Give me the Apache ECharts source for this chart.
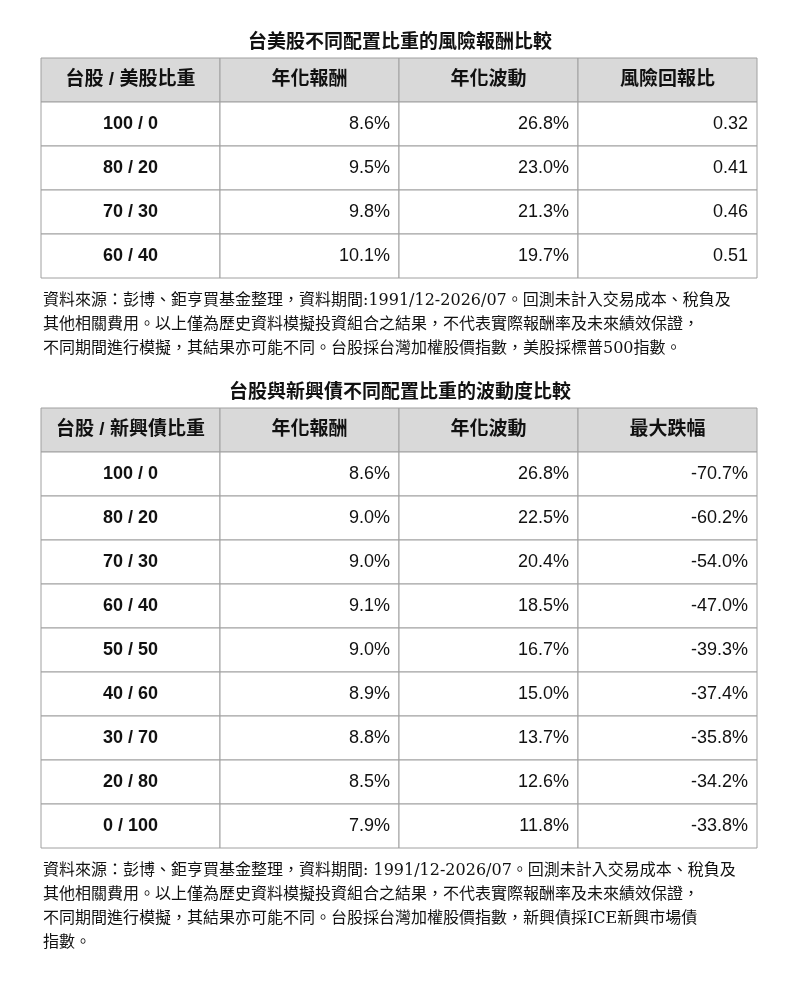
<!DOCTYPE html>
<html><head><meta charset="utf-8">
<script src="https://cdn.jsdelivr.net/npm/echarts@6/dist/echarts.min.js"></script>
<style>html,body{margin:0;padding:0;background:#fff}#c{width:800px;height:999px}</style>
</head><body><div id="c"></div>
<script>
const title1 = '台美股不同配置比重的風險報酬比較';
const header1 = ['台股 / 美股比重', '年化報酬', '年化波動', '風險回報比'];
const alloc1 = ['100 / 0', '80 / 20', '70 / 30', '60 / 40'];
const ret1 = ['8.6%', '9.5%', '9.8%', '10.1%'];
const vol1 = ['26.8%', '23.0%', '21.3%', '19.7%'];
const ratio1 = ['0.32', '0.41', '0.46', '0.51'];
const note1 = '資料來源：彭博、鉅亨買基金整理，資料期間:1991/12-2026/07。回測未計入交易成本、稅負及\n其他相關費用。以上僅為歷史資料模擬投資組合之結果，不代表實際報酬率及未來績效保證，\n不同期間進行模擬，其結果亦可能不同。台股採台灣加權股價指數，美股採標普500指數。';

const title2 = '台股與新興債不同配置比重的波動度比較';
const header2 = ['台股 / 新興債比重', '年化報酬', '年化波動', '最大跌幅'];
const alloc2 = ['100 / 0', '80 / 20', '70 / 30', '60 / 40', '50 / 50', '40 / 60', '30 / 70', '20 / 80', '0 / 100'];
const ret2 = ['8.6%', '9.0%', '9.0%', '9.1%', '9.0%', '8.9%', '8.8%', '8.5%', '7.9%'];
const vol2 = ['26.8%', '22.5%', '20.4%', '18.5%', '16.7%', '15.0%', '13.7%', '12.6%', '11.8%'];
const dd2 = ['-70.7%', '-60.2%', '-54.0%', '-47.0%', '-39.3%', '-37.4%', '-35.8%', '-34.2%', '-33.8%'];
const note2 = '資料來源：彭博、鉅亨買基金整理，資料期間: 1991/12-2026/07。回測未計入交易成本、稅負及\n其他相關費用。以上僅為歷史資料模擬投資組合之結果，不代表實際報酬率及未來績效保證，\n不同期間進行模擬，其結果亦可能不同。台股採台灣加權股價指數，新興債採ICE新興市場債\n指數。';

const FONT = '"Liberation Sans", "Noto Sans CJK TC", sans-serif';
const SERIF = '"DejaVu Serif", "Noto Sans CJK TC", serif';

function cells(header, cols) {
  const out = [];
  header.forEach((h, c) => out.push([c, 0, h, 1]));
  cols[0].forEach((_, r) => cols.forEach((col, c) => out.push([c, r + 1, col[r], 0])));
  return out;
}
function rowCats(n) { return Array.from({length: n + 1}, (_, i) => 'r' + i); }

function renderItem(d, params, api) {
  const c = api.value(0), r = api.value(1);
  const pt = api.coord([c, r]);
  const sz = api.size([1, 1]);
  const x = pt[0] - sz[0] / 2, y = pt[1] - sz[1] / 2;
  const header = d[3] === 1;
  const center = header || c === 0;
  return {
    type: 'group',
    children: [
      {type: 'rect', shape: {x, y, width: sz[0], height: sz[1]},
       style: {fill: header ? '#d9d9d9' : '#fff', stroke: '#a0a0a0', lineWidth: 1}},
      {type: 'text', style: {
        text: d[2], x: center ? pt[0] : x + sz[0] - 9, y: pt[1],
        align: center ? 'center' : 'right', verticalAlign: 'middle',
        font: (center ? 'bold ' : '') + (header ? '19px ' : '18px ') + FONT, fill: '#111'}}
    ]
  };
}

const data1 = cells(header1, [alloc1, ret1, vol1, ratio1]);
const data2 = cells(header2, [alloc2, ret2, vol2, dd2]);

const chart = echarts.init(document.getElementById('c'));
const axisHidden = {show: false};
chart.setOption({
  backgroundColor: '#fff',
  animation: false,
  title: [
    {text: title1, left: 'center', top: 29, textStyle: {fontFamily: SERIF, fontSize: 19, fontWeight: 'bold', color: '#111'}},
    {text: note1, left: 38, top: 284, textStyle: {fontFamily: SERIF, fontSize: 16, fontWeight: 'normal', color: '#111', lineHeight: 24}},
    {text: title2, left: 'center', top: 379, textStyle: {fontFamily: SERIF, fontSize: 19, fontWeight: 'bold', color: '#111'}},
    {text: note2, left: 38, top: 854, textStyle: {fontFamily: SERIF, fontSize: 16, fontWeight: 'normal', color: '#111', lineHeight: 24}}
  ],
  grid: [
    {left: 41, width: 716, top: 58, height: 220},
    {left: 41, width: 716, top: 408, height: 440}
  ],
  xAxis: [
    {type: 'category', gridIndex: 0, data: header1, ...axisHidden},
    {type: 'category', gridIndex: 1, data: header2, ...axisHidden}
  ],
  yAxis: [
    {type: 'category', gridIndex: 0, data: rowCats(alloc1.length), inverse: true, ...axisHidden},
    {type: 'category', gridIndex: 1, data: rowCats(alloc2.length), inverse: true, ...axisHidden}
  ],
  series: [
    {type: 'custom', xAxisIndex: 0, yAxisIndex: 0, data: data1, renderItem: (p, a) => renderItem(data1[p.dataIndex], p, a)},
    {type: 'custom', xAxisIndex: 1, yAxisIndex: 1, data: data2, renderItem: (p, a) => renderItem(data2[p.dataIndex], p, a)}
  ]
});
</script></body></html>
